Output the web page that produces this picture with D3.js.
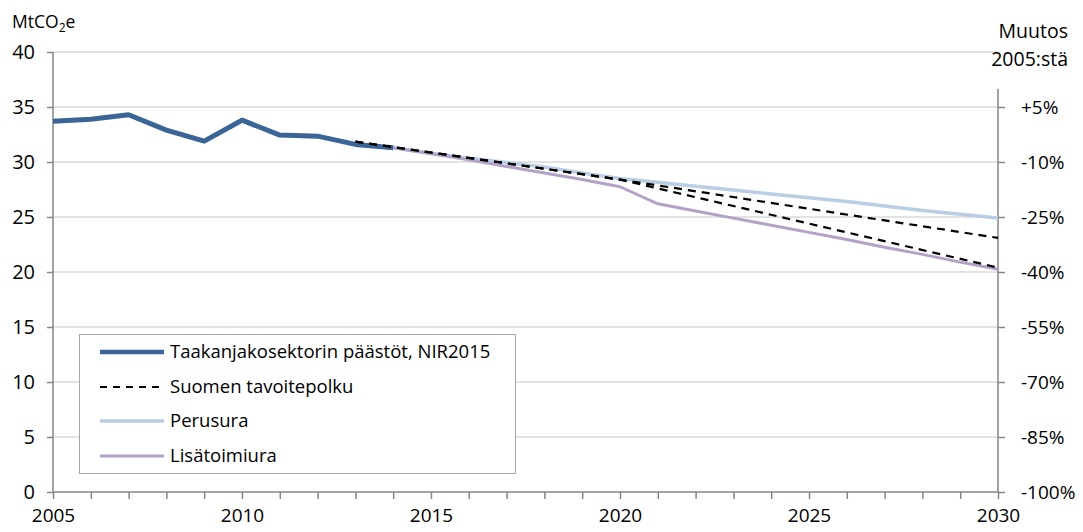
<!DOCTYPE html>
<html><head><meta charset="utf-8">
<script src="https://cdn.jsdelivr.net/npm/d3@7"></script>
<style>
body{margin:0;background:#fff;}
text{font-family:"Open Sans",sans-serif;fill:#000;}
</style></head>
<body><svg id="c" width="1083" height="532"></svg>
<script>
// ---- data ----
const histYears = [2005,2006,2007,2008,2009,2010,2011,2012,2013,2014];
const histValues = [33.7,33.88,34.3,32.9,31.9,33.8,32.45,32.35,31.6,31.3];

const targetYears = [2013,2020,2030];
const targetUpper = [31.85,28.4,23.1];
const targetLower = [31.85,28.4,20.4];

const scenYears = [2014,2015,2016,2017,2018,2019,2020,2021,2022,2023,2024,2025,2026,2027,2028,2029,2030];
const perusura = [31.3,30.8,30.35,29.95,29.55,29.0,28.5,28.15,27.8,27.45,27.1,26.75,26.4,26.0,25.6,25.25,24.9];
const lisatoimiura = [31.3,30.75,30.2,29.6,29.0,28.4,27.75,26.2,25.55,24.9,24.25,23.6,22.95,22.25,21.6,20.9,20.25];

const leftTicks = [0,5,10,15,20,25,30,35,40];
const rightTicks = [-100,-85,-70,-55,-40,-25,-10,5];
const xLabelYears = [2005,2010,2015,2020,2025,2030];
const base2005 = 100/3; // 33.33 Mt corresponds to 0 %
const legendLabels = ["Taakanjakosektorin päästöt, NIR2015","Suomen tavoitepolku","Perusura","Lisätoimiura"];

// ---- layout ----
const svg = d3.select("#c");
const L = 53, R = 998, T = 52, B = 492;
const x = d3.scaleLinear().domain([2005,2030]).range([L,R]);
const y = d3.scaleLinear().domain([0,40]).range([B,T]);
const yR = d3.scaleLinear().domain([-100,0]).range([y(0), y(base2005)]);

// gridlines
svg.append("g").selectAll("line").data(leftTicks.filter(d=>d>0)).join("line")
  .attr("x1",L).attr("x2",R).attr("y1",d=>y(d)).attr("y2",d=>y(d))
  .attr("stroke","#d9d9d9").attr("stroke-width",1.5);

const axisColor = "#868686";
// left axis
const gl = svg.append("g").attr("transform",`translate(${L},0)`)
  .call(d3.axisLeft(y).tickValues(leftTicks).tickSize(6).tickPadding(12).tickFormat(d3.format("d")));
gl.select(".domain").attr("stroke",axisColor).attr("stroke-width",1.5).attr("d",`M0,${T}V${B}`);
gl.selectAll(".tick line").attr("stroke",axisColor).attr("stroke-width",1.5);
gl.selectAll(".tick text").attr("font-size",20).attr("font-family","Open Sans");

// right axis
const gr = svg.append("g").attr("transform",`translate(${R},0)`)
  .call(d3.axisRight(yR).tickValues(rightTicks).tickSize(7).tickPadding(16)
    .tickFormat(d => (d>0?"+":"") + d + "%"));
gr.select(".domain").attr("stroke",axisColor).attr("stroke-width",1.5).attr("d",`M0,${yR(10)}V${B}`);
gr.selectAll(".tick line").attr("stroke",axisColor).attr("stroke-width",1.5);
gr.selectAll(".tick text").attr("font-size",19).attr("font-family","Open Sans");

// bottom axis
const gb = svg.append("g").attr("transform",`translate(0,${B})`)
  .call(d3.axisBottom(x).tickValues(d3.range(2005,2031)).tickSize(7).tickPadding(10)
    .tickFormat(d => xLabelYears.includes(d) ? String(d) : ""));
gb.select(".domain").attr("stroke",axisColor).attr("stroke-width",1.5).attr("d",`M${L},0H${R}`);
gb.selectAll(".tick line").attr("stroke",axisColor).attr("stroke-width",1.5);
gb.selectAll(".tick text").attr("font-size",19).attr("font-family","Open Sans");

// lines
const line = d3.line().x(d=>x(d[0])).y(d=>y(d[1]));
const zip = (a,b)=>a.map((v,i)=>[v,b[i]]);
const colors = {hist:"#3b6497", base:"#b9cde5", add:"#b3a2c7", target:"#000"};

svg.append("path").attr("d",line(zip(scenYears,perusura))).attr("fill","none")
  .attr("stroke",colors.base).attr("stroke-width",3.5).attr("stroke-linejoin","round");
svg.append("path").attr("d",line(zip(scenYears,lisatoimiura))).attr("fill","none")
  .attr("stroke",colors.add).attr("stroke-width",3).attr("stroke-linejoin","round");
svg.append("path").attr("d",line(zip(histYears,histValues))).attr("fill","none")
  .attr("stroke",colors.hist).attr("stroke-width",5).attr("stroke-linejoin","round");
[targetUpper,targetLower].forEach(v=>{
  svg.append("path").attr("d",line(zip(targetYears,v))).attr("fill","none")
    .attr("stroke",colors.target).attr("stroke-width",2.2).attr("stroke-dasharray","8,6");
});

// axis titles
const t1 = svg.append("text").attr("x",12).attr("y",28).attr("font-size",17.5);
t1.append("tspan").text("MtCO");
t1.append("tspan").text("2").attr("font-size",12).attr("dy",4);
t1.append("tspan").text("e").attr("dy",-4);
svg.append("text").attr("x",1068).attr("y",38).attr("text-anchor","end").attr("font-size",19.5).text("Muutos");
svg.append("text").attr("x",1068).attr("y",66).attr("text-anchor","end").attr("font-size",19.5).text("2005:stä");

// legend
const lg = svg.append("g");
lg.append("rect").attr("x",79.5).attr("y",334.5).attr("width",436).attr("height",139)
  .attr("fill","#fff").attr("stroke","#a6a6a6").attr("stroke-width",1);
const legStyles = [
  {c:colors.hist,w:4.5,dash:null},
  {c:colors.target,w:2.2,dash:"7,6"},
  {c:colors.base,w:3.5,dash:null},
  {c:colors.add,w:3,dash:null}
];
const rowY = [352,387,421,456];
legendLabels.forEach((lab,i)=>{
  const s = legStyles[i];
  lg.append("line").attr("x1",100).attr("x2",164).attr("y1",rowY[i]).attr("y2",rowY[i])
    .attr("stroke",s.c).attr("stroke-width",s.w).attr("stroke-dasharray",s.dash);
  lg.append("text").attr("x",170).attr("y",rowY[i]).attr("dy","0.35em").attr("font-size",18.5).text(lab);
});
</script></body></html>
